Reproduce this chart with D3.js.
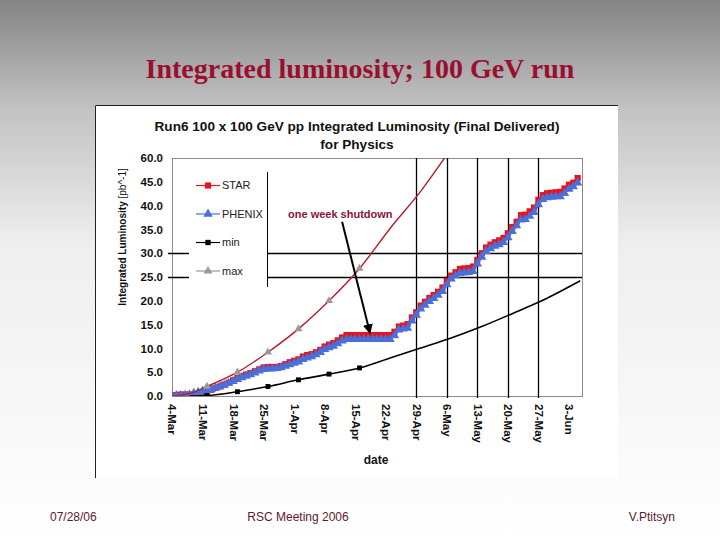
<!DOCTYPE html>
<html>
<head>
<meta charset="utf-8">
<script src="https://cdn.jsdelivr.net/npm/d3@7"></script>
<style>
  body { margin: 0; padding: 0; background: #fff; }
  svg { display: block; }
  text { font-family: "Liberation Sans", Arial, sans-serif; }
</style>
</head>
<body>
<div id="chart"></div>
<script>
// days counted from 4-Mar-2006
var xTickDays = [0, 7, 14, 21, 28, 35, 42, 49, 56, 63, 70, 77, 84, 91];
var xTickLabels = ['4-Mar', '11-Mar', '18-Mar', '25-Mar', '1-Apr', '8-Apr', '15-Apr',
  '22-Apr', '29-Apr', '6-May', '13-May', '20-May', '27-May', '3-Jun'];
var yTickValues = [0, 5, 10, 15, 20, 25, 30, 35, 40, 45, 50];
var yTickLabels = ['0.0', '5.0', '10.0', '15.0', '20.0', '25.0', '30.0', '35.0', '40.0', '45.0', '60.0'];
var gridDays = [56, 63, 70, 77, 84];
var gridValues = [25, 30];

var starDays = d3.range(0, 94);
var starValues = [0.1, 0.2, 0.3, 0.3, 0.3, 0.3, 0.3, 0.4, 0.9, 1.3,
  1.7, 2.0, 2.4, 2.8, 3.3, 3.8, 4.2, 4.5, 4.8, 5.2,
  5.6, 6.0, 6.1, 6.1, 6.1, 6.3, 6.7, 7.1, 7.4, 7.7,
  8.3, 8.6, 8.8, 9.2, 9.7, 10.4, 10.8, 11.1, 11.7, 12.3,
  12.8, 12.8, 12.8, 12.8, 12.8, 12.8, 12.8, 12.8, 12.8, 12.8,
  12.8, 13.5, 14.6, 14.8, 15.1, 16.5, 17.6, 19.0, 19.8, 20.6,
  21.2, 21.9, 22.8, 24.2, 25.3, 26.0, 26.7, 26.8, 26.9, 27.2,
  28.6, 30.0, 31.2, 31.8, 32.3, 32.7, 33.2, 34.2, 35.5, 36.6,
  38.0, 38.1, 38.8, 39.6, 41.2, 42.2, 42.6, 42.7, 42.8, 42.9,
  43.6, 44.4, 44.8, 45.8];

var phenixDays = d3.range(0, 94);
var phenixValues = [0.0, 0.1, 0.1, 0.2, 0.3, 0.6, 0.8, 1.0, 1.2, 1.4,
  1.7, 2.0, 2.3, 2.7, 3.1, 3.5, 3.9, 4.2, 4.5, 4.9,
  5.3, 5.6, 5.7, 5.7, 5.8, 6.0, 6.3, 6.6, 6.9, 7.2,
  7.7, 8.0, 8.3, 8.7, 9.2, 9.8, 10.2, 10.5, 11.0, 11.6,
  11.9, 11.9, 11.9, 11.9, 11.9, 11.9, 11.9, 11.9, 11.9, 11.9,
  11.9, 12.7, 13.9, 14.1, 14.3, 15.8, 17.0, 18.3, 19.1, 19.9,
  20.5, 21.2, 22.0, 23.4, 24.6, 25.3, 25.8, 25.9, 26.0, 26.2,
  27.8, 29.2, 30.4, 31.0, 31.5, 31.8, 32.3, 33.3, 34.6, 35.8,
  37.0, 37.1, 37.8, 38.6, 40.2, 41.3, 41.7, 41.8, 41.9, 41.9,
  42.6, 43.5, 44.0, 44.8];

// planned min / max curves; markers only on the weekly points up to 15-Apr
var minDays = [4, 8, 15, 22, 29, 36, 43, 50, 57, 64, 71, 78, 85, 93.6];
var minValues = [0.0, 0.1, 0.9, 2.0, 3.4, 4.6, 5.9, 8.0, 10.1, 12.2, 14.6, 17.3, 20.1, 24.2];
var maxDays = [0, 4, 8, 15, 22, 29, 36, 43, 50, 57, 64];
var maxValues = [0.0, 0.5, 2.0, 5.0, 9.2, 14.1, 20.0, 26.8, 35.2, 43.0, 52.0];
var markerFrom = 8, markerTo = 43;

var series = ['STAR', 'PHENIX', 'min', 'max'];

var width = 720, height = 540;
var svg = d3.select('#chart').append('svg').attr('width', width).attr('height', height);

// slide background
var defs = svg.append('defs');
var grad = defs.append('linearGradient').attr('id', 'bg').attr('x1', 0).attr('y1', 0).attr('x2', 0).attr('y2', 1);
grad.append('stop').attr('offset', '0%').attr('stop-color', '#848484');
grad.append('stop').attr('offset', '20%').attr('stop-color', '#c2c2c2');
grad.append('stop').attr('offset', '45%').attr('stop-color', '#eeeeee');
grad.append('stop').attr('offset', '100%').attr('stop-color', '#ffffff');
svg.append('rect').attr('width', width).attr('height', height).attr('fill', 'url(#bg)');

svg.append('text')
  .attr('x', 360).attr('y', 78)
  .attr('text-anchor', 'middle')
  .style('font-family', '"Liberation Serif", "Times New Roman", serif')
  .style('font-weight', 'bold')
  .style('font-size', '28px')
  .attr('fill', '#9a0f30')
  .text('Integrated luminosity; 100 GeV run');

// chart panel
svg.append('rect').attr('x', 95).attr('y', 105).attr('width', 523).attr('height', 373).attr('fill', '#fff');
svg.append('path').attr('d', 'M95.5,478V105.5H618').attr('fill', 'none').attr('stroke', '#222');

var x = d3.scaleLinear().domain([0, 94]).range([172, 582]);
var y = d3.scaleLinear().domain([0, 50]).range([396, 158]);

svg.append('text').attr('x', 357).attr('y', 131).attr('text-anchor', 'middle')
  .style('font-weight', 'bold').style('font-size', '13.6px').attr('fill', '#111')
  .text('Run6 100 x 100 GeV pp Integrated Luminosity (Final Delivered)');
svg.append('text').attr('x', 357).attr('y', 149).attr('text-anchor', 'middle')
  .style('font-weight', 'bold').style('font-size', '13.6px').attr('fill', '#111')
  .text('for Physics');

// plot frame
svg.append('rect').attr('x', x(0) + 0.5).attr('y', y(50) + 0.5)
  .attr('width', x(94) - x(0)).attr('height', y(0) - y(50))
  .attr('fill', 'none').attr('stroke', '#8a8a8a');

// grid lines
svg.selectAll('.vgrid').data(gridDays).join('line').attr('class', 'vgrid')
  .attr('x1', d => Math.round(x(d)) + 0.5).attr('x2', d => Math.round(x(d)) + 0.5)
  .attr('y1', y(50)).attr('y2', y(0) + 2).attr('stroke', '#000').attr('stroke-width', 1.3);
svg.selectAll('.hgrid').data(gridValues).join('line').attr('class', 'hgrid')
  .attr('x1', x(0) - 4).attr('x2', x(94))
  .attr('y1', d => Math.round(y(d)) + 0.5).attr('y2', d => Math.round(y(d)) + 0.5)
  .attr('stroke', '#000').attr('stroke-width', 1.3);

// axes
var yAxis = svg.append('g').attr('transform', `translate(${x(0)},0)`)
  .call(d3.axisLeft(y).tickValues(yTickValues).tickSize(0).tickPadding(9)
    .tickFormat((d, i) => yTickLabels[i]));
yAxis.select('.domain').remove();
yAxis.selectAll('text').style('font-family', '"Liberation Sans", Arial, sans-serif')
  .style('font-size', '11.5px').style('font-weight', 'bold').attr('fill', '#111');

var xAxis = svg.append('g').attr('transform', `translate(0,${y(0)})`)
  .call(d3.axisBottom(x).tickValues(xTickDays).tickSize(0)
    .tickFormat((d, i) => xTickLabels[i]));
xAxis.select('.domain').remove();
xAxis.selectAll('text')
  .style('font-family', '"Liberation Sans", Arial, sans-serif')
  .style('font-size', '11.5px').style('font-weight', 'bold').attr('fill', '#111')
  .attr('text-anchor', 'start')
  .attr('transform', 'rotate(90)')
  .attr('x', 8).attr('y', 0).attr('dy', '0.35em');

svg.append('text').attr('x', 376).attr('y', 464).attr('text-anchor', 'middle')
  .style('font-weight', 'bold').style('font-size', '12px').attr('fill', '#111').text('date');

var yTitle = svg.append('text').attr('transform', 'translate(126,237) rotate(-90)')
  .attr('text-anchor', 'middle').style('font-size', '10px').attr('fill', '#111');
yTitle.append('tspan').style('font-weight', 'bold').text('Integrated Luminosity ');
yTitle.append('tspan').text('[pb^-1]');

// legend box
var lg = svg.append('g');
lg.append('rect').attr('x', 189).attr('y', 172).attr('width', 78).attr('height', 115).attr('fill', '#fff');
lg.append('line').attr('x1', 267.5).attr('x2', 267.5).attr('y1', 172).attr('y2', 287).attr('stroke', '#000');

var colors = { STAR: '#e8141c', PHENIX: '#4a6fd8', min: '#000', max: '#b81c2a' };
var markerColors = { STAR: '#e8141c', PHENIX: '#4a6fd8', min: '#000', max: '#999' };
var legendLine = { STAR: '#e8141c', PHENIX: '#4a6fd8', min: '#000', max: '#999' };
var shapes = { STAR: d3.symbolSquare, PHENIX: d3.symbolTriangle, min: d3.symbolSquare, max: d3.symbolTriangle };
var sizes = { STAR: 38, PHENIX: 38, min: 28, max: 34 };

series.forEach(function (s, i) {
  var ly = 185.5 + i * 28.5;
  lg.append('line').attr('x1', 196).attr('x2', 220).attr('y1', ly).attr('y2', ly)
    .attr('stroke', legendLine[s]).attr('stroke-width', 1.2);
  lg.append('path').attr('d', d3.symbol(shapes[s], sizes[s])())
    .attr('transform', `translate(208,${ly})`).attr('fill', markerColors[s]);
  lg.append('text').attr('x', 222).attr('y', ly).attr('dy', '0.35em')
    .style('font-size', '11px').attr('fill', '#222').text(s);
});

// clip for data
defs.append('clipPath').attr('id', 'plotclip').append('rect')
  .attr('x', x(0)).attr('y', y(50)).attr('width', x(94) - x(0)).attr('height', y(0) - y(50));
var plot = svg.append('g').attr('clip-path', 'url(#plotclip)');

function zip(ds, vs) { return ds.map((d, i) => [d, vs[i]]); }
var lineLin = d3.line().x(d => x(d[0])).y(d => y(d[1]));
var lineSmooth = d3.line().x(d => x(d[0])).y(d => y(d[1])).curve(d3.curveMonotoneX);

var data = {
  STAR: zip(starDays, starValues),
  PHENIX: zip(phenixDays, phenixValues),
  min: zip(minDays, minValues),
  max: zip(maxDays, maxValues)
};

['STAR', 'PHENIX'].forEach(function (s) {
  plot.append('path').datum(data[s]).attr('d', lineLin)
    .attr('fill', 'none').attr('stroke', colors[s]).attr('stroke-width', 2);
  plot.selectAll('.m-' + s).data(data[s]).join('path').attr('class', 'm-' + s)
    .attr('d', d3.symbol(shapes[s], sizes[s])())
    .attr('transform', d => `translate(${x(d[0])},${y(d[1])})`)
    .attr('fill', markerColors[s]);
});

['min', 'max'].forEach(function (s) {
  plot.append('path').datum(data[s]).attr('d', lineSmooth)
    .attr('fill', 'none').attr('stroke', colors[s]).attr('stroke-width', s === 'min' ? 1.6 : 1.4);
  plot.selectAll('.m-' + s).data(data[s].filter(d => d[0] >= markerFrom && d[0] <= markerTo))
    .join('path').attr('class', 'm-' + s)
    .attr('d', d3.symbol(shapes[s], s === 'min' ? 24 : 28)())
    .attr('transform', d => `translate(${x(d[0])},${y(d[1])})`)
    .attr('fill', markerColors[s]);
});

// shutdown annotation
defs.append('marker').attr('id', 'arrow').attr('viewBox', '0 0 10 10')
  .attr('refX', 9).attr('refY', 5).attr('markerWidth', 5).attr('markerHeight', 5)
  .attr('orient', 'auto').append('path').attr('d', 'M0,0L10,5L0,10Z').attr('fill', '#000');
svg.append('line')
  .attr('x1', x(39)).attr('y1', y(36.6)).attr('x2', x(45.4)).attr('y2', y(13.2))
  .attr('stroke', '#000').attr('stroke-width', 2).attr('marker-end', 'url(#arrow)');
svg.append('text').attr('x', x(26.6)).attr('y', y(37.3))
  .style('font-size', '11px').style('font-weight', 'bold').attr('fill', '#8a1538')
  .text('one week shutdown');

// footer
var footer = [['07/28/06', 50, 'start'], ['RSC Meeting 2006', 298, 'middle'], ['V.Ptitsyn', 675, 'end']];
svg.selectAll('.foot').data(footer).join('text').attr('class', 'foot')
  .attr('x', d => d[1]).attr('y', 521).attr('text-anchor', d => d[2])
  .style('font-size', '12px').attr('fill', '#5e1a30').text(d => d[0]);
</script>
</body>
</html>
